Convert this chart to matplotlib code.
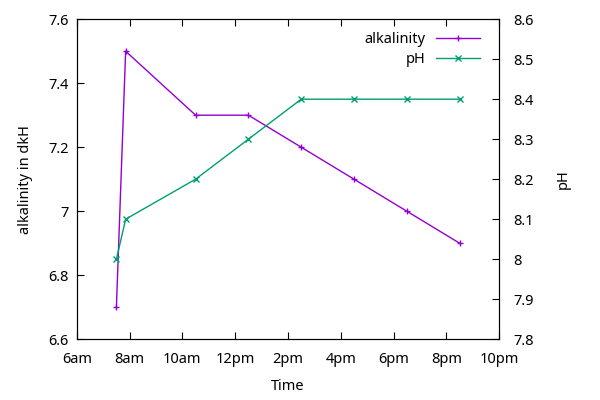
import matplotlib.pyplot as plt
from matplotlib.ticker import FuncFormatter

plt.rcParams['font.family'] = ['Noto Sans', 'DejaVu Sans']

# hours since midnight
hours = [7.5, 7.85, 10.5, 12.5, 14.5, 16.5, 18.5, 20.5]
alkalinity = [6.7, 7.5, 7.3, 7.3, 7.2, 7.1, 7.0, 6.9]
ph = [8.0, 8.1, 8.2, 8.3, 8.4, 8.4, 8.4, 8.4]

xticks = [6, 8, 10, 12, 14, 16, 18, 20, 22]
xlabels = ['6am', '8am', '10am', '12pm', '2pm', '4pm', '6pm', '8pm', '10pm']

fs = 10.5
fig = plt.figure(figsize=(6, 4), dpi=100)
ax = fig.add_axes([0.128, 0.152, 0.704, 0.8])
ax2 = ax.twinx()

l1, = ax.plot(hours, alkalinity, color='#9400D3', marker='+', ms=5, mew=1, lw=1, label='alkalinity')
l2, = ax2.plot(hours, ph, color='#009E73', marker='x', ms=4.5, mew=1, lw=1, label='pH')

ax.set_xlim(6, 22)
ax.set_ylim(6.6, 7.6)
ax2.set_ylim(7.8, 8.6)
ax.set_xticks(xticks)
ax.set_xticklabels(xlabels)
ax.set_yticks([6.6, 6.8, 7.0, 7.2, 7.4, 7.6])
ax2.set_yticks([7.8, 7.9, 8.0, 8.1, 8.2, 8.3, 8.4, 8.5, 8.6])
fmt = FuncFormatter(lambda v, p: '%g' % round(v, 2))
ax.yaxis.set_major_formatter(fmt)
ax2.yaxis.set_major_formatter(fmt)

ax.tick_params(axis='y', direction='in', right=False, labelsize=fs, length=5, pad=6)
ax.tick_params(axis='x', direction='in', top=True, labelsize=fs, length=5, pad=9)
ax2.tick_params(direction='in', labelsize=fs, length=5, pad=10)

ax.set_xlabel('Time', fontsize=fs, labelpad=9)
ax.set_ylabel('alkalinity in dkH', fontsize=fs, labelpad=11)
ax2.set_ylabel('pH', fontsize=fs, labelpad=16)

ax2.legend([l1, l2], ['alkalinity', 'pH'], loc='upper right', frameon=False,
           markerfirst=False, fontsize=fs, handlelength=3.0, handletextpad=0.7,
           labelspacing=0.3, borderaxespad=0.5, bbox_to_anchor=(0.985, 1.0))

fig.savefig('out.png')
